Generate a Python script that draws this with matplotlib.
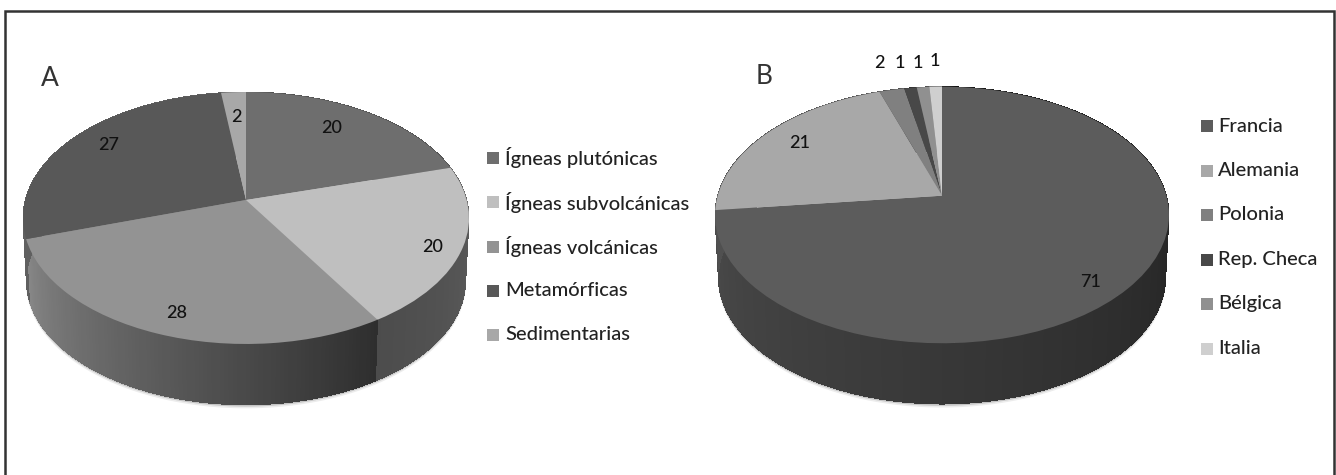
import numpy as np
import matplotlib
matplotlib.use("Agg")
import matplotlib.pyplot as plt
from matplotlib.patches import Rectangle
from matplotlib.transforms import Transform

plt.rcParams['font.family'] = ['Lato', 'DejaVu Sans']

# datos
rocas = ["Ígneas plutónicas", "Ígneas subvolcánicas", "Ígneas volcánicas", "Metamórficas", "Sedimentarias"]
rocas_val = [20, 20, 28, 27, 2]
paises = ["Francia", "Alemania", "Polonia", "Rep. Checa", "Bélgica", "Italia"]
paises_val = [71, 21, 2, 1, 1, 1]

# estilo
rocas_col = ["#6e6e6e", "#bfbfbf", "#939393", "#585858", "#a8a8a8"]
rocas_wall = [(0x50, 0x50), (0x60, 0x4c), (0x2e, 0x88), (0x60, 0x60), (0x60, 0x60)]
paises_col = ["#5c5c5c", "#a8a8a8", "#808080", "#484848", "#909090", "#cfcfcf"]
paises_wall = [(0x10, 0x4a), (0x50, 0x50), (0x50, 0x50), (0x30, 0x30), (0x50, 0x50), (0x70, 0x70)]

rocas_lab = [(332, 128), (433, 247), (177, 313), (109, 145), (236, 117)]
paises_lab = [(1091, 282), (800, 143), (879, 63), (900, 63), (918, 63), (935, 61)]


class Perspectiva(Transform):
    # lleva el circulo unidad del pie a la elipse en perspectiva (pixeles)
    input_dims = 2
    output_dims = 2

    def __init__(self, cx, cy, rx, ry, k, esc=1.0, dy=0.0):
        super().__init__()
        self.p = (cx, cy, rx, ry, k, esc, dy)

    def transform_non_affine(self, xy):
        cx, cy, rx, ry, k, esc, dy = self.p
        xy = np.asarray(xy, dtype=float)
        d = 1 + k * xy[:, 1]
        return np.column_stack([cx + esc * rx * xy[:, 0] / d,
                                cy + dy - esc * ry * xy[:, 1] / d])


def tarta(ax, vals, cols, walls, geo, esc, dy):
    tapa = Perspectiva(*geo)
    base = Perspectiva(*geo, esc=esc, dy=dy)

    # sombra suave bajo la base
    t = np.linspace(0, 2 * np.pi, 300)
    circ = np.column_stack([np.cos(t), np.sin(t)])
    for extra, tono in [(3.5, "#ececec"), (1.8, "#c4c4c4")]:
        s = Perspectiva(*geo, esc=esc, dy=dy + extra).transform(circ)
        ax.fill(s[:, 0], s[:, 1], color=tono, lw=0, zorder=1)

    # pared lateral, con degradado dentro de cada porcion
    lim = np.cumsum([0] + list(vals)) / sum(vals) * 2 * np.pi
    for i in range(len(vals)):
        n = max(2, int((lim[i + 1] - lim[i]) * 60))
        a = np.linspace(lim[i], lim[i + 1], n + 1)
        for j in range(n):
            # cada tira pisa un poco la siguiente para que no se vean costuras
            fin = min(a[j + 1] + 0.02, lim[i + 1])
            seg = np.linspace(a[j], fin, 4)
            u = np.column_stack([np.sin(seg), np.cos(seg)])
            p1 = tapa.transform(u)
            p2 = base.transform(u)[::-1]
            pts = np.vstack([p1, p2])
            g = walls[i][0] + (walls[i][1] - walls[i][0]) * j / n
            ax.fill(pts[:, 0], pts[:, 1], color=(g / 255, g / 255, g / 255), lw=0,
                    antialiased=False, zorder=2)

    wedges = ax.pie(vals, colors=cols, startangle=90, counterclock=False,
                    wedgeprops={"linewidth": 0})[0]
    for w in wedges:
        w.set_transform(tapa + ax.transData)
        w.set_zorder(3)


fig = plt.figure(figsize=(13.36, 4.75), dpi=100, facecolor="white")
ax = fig.add_axes([0, 0, 1, 1])

tarta(ax, rocas_val, rocas_col, rocas_wall, (246, 200, 220.7, 123.4, 0.1429), 0.985, 63)
tarta(ax, paises_val, paises_col, paises_wall, (942, 195.7, 224.4, 125.4, 0.150), 0.985, 63)

ax.set_aspect("auto")
ax.set_xlim(0, 1336)
ax.set_ylim(475, 0)
ax.axis("off")

# el marco no se cierra por abajo dentro de la imagen
ax.plot([5, 5, 1334, 1334], [480, 11, 11, 480], color="#333333", lw=1.8, zorder=6,
        solid_joinstyle="miter")

for (x, y), v in zip(rocas_lab, rocas_val):
    ax.text(x, y, str(v), ha="center", va="center", fontsize=13, fontweight="medium", color="#111111", zorder=5)
for (x, y), v in zip(paises_lab, paises_val):
    ax.text(x, y, str(v), ha="center", va="center", fontsize=13, fontweight="medium", color="#111111", zorder=5)

ax.text(50, 78, "A", ha="center", va="center", fontsize=19, color="#333333")
ax.text(764, 77, "B", ha="center", va="center", fontsize=19, color="#333333")


def leyenda(nombres, cols, xm, xt, y0, paso):
    for i, (nom, c) in enumerate(zip(nombres, cols)):
        y = y0 + i * paso
        ax.add_patch(Rectangle((xm, y - 6), 12, 12, fc=c, ec="none", zorder=5))
        ax.text(xt, y, nom, ha="left", va="center", fontsize=14.5, fontweight="medium", color="#222222", zorder=5)


leyenda(rocas, rocas_col, 487, 505, 158, 44.25)
leyenda(paises, paises_col, 1201, 1218, 126, 44.5)

fig.savefig("out.png", dpi=100)
